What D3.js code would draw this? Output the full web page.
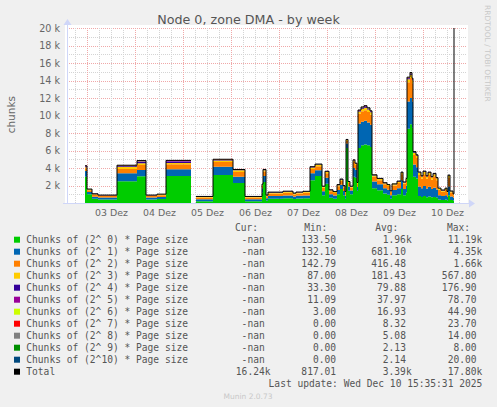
<!DOCTYPE html>
<html>
<head>
<meta charset="utf-8">
<script src="https://cdn.jsdelivr.net/npm/d3@7"></script>
<style>
body { margin: 0; background: #f0f0f0; }
svg { display: block; font-family: "DejaVu Sans", sans-serif; }
</style>
</head>
<body>
<div id="chart"></div>
<script>
// hours after 03 Dez 00:00; each value holds until the next entry (null = no data)
var hours = [-1,0,2.5,5.5,15, 25,29.5,35,39.5,52, 54.5,63,73,79,87.5, 88,89.5,90.5,98,103,
  104.5,108,111.5,114,117.5, 119,121,123,125,126.5, 128,129,129.5,130.5,131.5, 133,134,135,135.5,137,
  138.5,140,141.5,142.5,145, 148,150,151.5,152.5,155, 157,158,159.5,160,161.5, 162.5,163,164.5,165.5,167,
  168,169.5,170.5,172,173, 174.5,175.5,177,179,180, 180.5,181.5,183,183.5];

var s0 = [3000,1000,480,400,2500, 3050,400,450,3100,null, 200,3200,2300,200,1200, 2400,300,500,550,450,
  520,540,2600,3100,900, 2200,600,500,1000,1600, 900,500,6300,1400,1000, 3000,2900,1400,6300,6600,
  6700,6600,6400,1700,1450, 1100,950,500,900,1000, 1600,900,1200,8500,9000, 8600,3000,2800,800,700,
  800,650,750,650,700, 600,400,350,400,300, 900,350,300,null];
var s1 = [650,260,240,220,900, 730,220,250,760,null, 220,950,700,220,500, 700,250,300,320,280,
  300,320,800,650,450, 700,400,350,500,500, 480,350,500,500,420, 1000,900,450,2800,2700,
  2700,2600,2550,750,680, 600,560,400,600,700, 1000,700,800,3100,3000, 3000,1400,1300,1100,1000,
  1150,1000,1100,950,1050, 950,500,450,500,400, 1000,400,300,null];
var s2 = [330,190,200,170,480, 550,170,190,570,null, 200,550,550,200,300, 500,220,280,300,250,
  270,300,500,450,400, 500,350,300,420,450, 420,300,300,380,350, 700,550,330,1100,1200,
  1200,1200,1150,550,480, 430,420,350,500,600, 700,600,600,2200,2300, 2100,1100,1050,1300,1100,
  1350,1150,1350,1100,1300, 1050,600,500,600,450, 1000,450,300,null];
var s3 = [120,80,80,70,270, 200,70,75,150,null, 80,150,200,80,100, 150,90,100,110,95,
  100,110,150,150,110, 150,100,100,120,120, 120,100,100,110,100, 150,130,100,250,280,
  300,280,260,150,140, 130,120,100,130,140, 160,140,150,350,350, 330,250,240,250,230,
  250,230,240,230,240, 220,150,140,150,120, 220,130,100,null];
var s4 = [80,40,35,33,70, 177,33,35,170,null, 34,60,45,34,40, 50,35,40,45,38,
  40,42,60,60,40, 50,38,35,40,45, 40,35,40,40,38, 50,45,40,100,110,
  120,110,100,45,40, 38,35,30,38,40, 45,40,40,120,130, 120,70,65,55,50,
  55,50,55,50,55, 50,35,33,35,30, 45,30,30,null];
var s5 = [35,15,12,11,30, 78,11,12,75,null, 12,25,20,12,15, 20,12,15,16,14,
  15,16,25,25,15, 20,14,12,15,16, 15,12,15,15,14, 20,18,15,45,50,
  55,50,45,18,15, 14,12,10,14,15, 18,15,15,55,60, 55,30,28,22,20,
  22,20,22,20,22, 20,12,11,12,10, 18,10,10,null];
var s6 = [20,5,4,3,45, 20,3,3,15,null, 3,44,10,3,5, 8,3,5,5,4,
  5,5,8,8,5, 6,4,4,5,5, 5,4,5,5,4, 6,6,5,15,18,
  20,18,15,6,5, 4,4,3,4,5, 6,5,5,25,30, 25,12,10,8,7,
  8,7,8,7,8, 7,4,3,4,3, 6,3,3,null];
var s7 = [10,3,2,0,12, 20,0,0,14,null, 0,10,5,0,2, 4,0,2,2,1,
  2,2,5,5,2, 3,1,1,2,2, 2,1,2,2,1, 3,3,2,8,10,
  12,10,8,3,2, 1,1,0,1,2, 3,2,2,15,18, 15,6,5,4,3,
  4,3,4,3,4, 3,1,0,1,0, 3,0,0,null];
var s8 = [6,1,1,0,6, 10,0,0,8,null, 0,6,2,0,1, 2,0,1,1,0,
  1,1,2,2,1, 1,0,0,1,1, 1,0,1,1,0, 1,1,1,4,5,
  6,5,4,1,1, 0,0,0,0,1, 1,1,1,8,10, 8,3,2,2,1,
  2,1,2,1,2, 1,0,0,0,0, 1,0,0,null];
var s9 = [2,0,0,0,2, 4,0,0,2,null, 0,2,0,0,0, 0,0,0,0,0,
  0,0,0,0,0, 0,0,0,0,0, 0,0,0,0,0, 0,0,0,2,2,
  3,2,2,0,0, 0,0,0,0,0, 0,0,0,4,5, 4,1,1,1,0,
  1,0,1,0,1, 0,0,0,0,0, 0,0,0,null];
var s10 = [2,0,0,0,2, 6,0,0,4,null, 0,2,0,0,0, 0,0,0,0,0,
  0,0,0,0,0, 0,0,0,0,0, 0,0,0,0,0, 0,0,0,2,2,
  3,2,2,0,0, 0,0,0,0,0, 0,0,0,4,5, 4,1,1,1,0,
  1,0,1,0,1, 0,0,0,0,0, 0,0,0,null];
// last total sample shoots past the top of the graph
var endTotal = 20500;

var names = ["Chunks of (2^ 0) * Page size", "Chunks of (2^ 1) * Page size", "Chunks of (2^ 2) * Page size",
  "Chunks of (2^ 3) * Page size", "Chunks of (2^ 4) * Page size", "Chunks of (2^ 5) * Page size",
  "Chunks of (2^ 6) * Page size", "Chunks of (2^ 7) * Page size", "Chunks of (2^ 8) * Page size",
  "Chunks of (2^ 9) * Page size", "Chunks of (2^10) * Page size", "Total"];
var colors = ["#00CC00","#0066B3","#FF8000","#FFCC00","#330099","#990099","#CCFF00","#FF0000","#808080","#008F00","#00487D","#000000"];
var curVals = ["-nan","-nan","-nan","-nan","-nan","-nan","-nan","-nan","-nan","-nan","-nan","16.24k"];
var minVals = ["133.50","132.10","142.79","87.00","33.30","11.09","3.00","0.00","0.00","0.00","0.00","817.01"];
var avgVals = ["1.96k","681.10","416.48","181.43","79.88","37.97","16.93","8.32","5.08","2.13","2.14","3.39k"];
var maxVals = ["11.19k","4.35k","1.66k","567.80","176.90","78.70","44.90","23.70","14.00","8.00","20.00","17.80k"];
var yTicks = d3.range(2000, 20001, 2000);

var W = 497, H = 407;
var svg = d3.select("#chart").append("svg").attr("width", W).attr("height", H);
svg.append("rect").attr("width", W).attr("height", H).attr("fill", "#f0f0f0");

var de = d3.timeFormatLocale({
  dateTime: "%A, %e. %B %Y, %X", date: "%d.%m.%Y", time: "%H:%M:%S", periods: ["AM", "PM"],
  days: ["Sonntag","Montag","Dienstag","Mittwoch","Donnerstag","Freitag","Samstag"],
  shortDays: ["So","Mo","Di","Mi","Do","Fr","Sa"],
  months: ["Januar","Februar","März","April","Mai","Juni","Juli","August","September","Oktober","November","Dezember"],
  shortMonths: ["Jan","Feb","Mär","Apr","Mai","Jun","Jul","Aug","Sep","Okt","Nov","Dez"]
});

var day0 = new Date(2025, 11, 3);
function at(h) { return new Date(day0.getTime() + h * 3600e3); }

var x = d3.scaleTime().domain([at(-10), at(190)]).range([67, 467]);
var y = d3.scaleLinear().domain([0, 20000]).range([203, 28]);

// canvas
svg.append("rect").attr("x", 65).attr("y", 25).attr("width", 403).attr("height", 179).attr("fill", "#fff");

// grid
var grid = svg.append("g").attr("stroke-dasharray", "1,1").attr("shape-rendering", "crispEdges");
d3.range(1000, 20001, 1000).forEach(function(v) {
  grid.append("line").attr("x1", 67).attr("x2", 467).attr("y1", Math.round(y(v)) + 0.5).attr("y2", Math.round(y(v)) + 0.5)
    .attr("stroke", v % 2000 ? "#d4d4d4" : "#f0a8a8");
});
d3.range(-6, 190, 6).forEach(function(h) {
  var px = Math.round(x(at(h))) + 0.5;
  grid.append("line").attr("x1", px).attr("x2", px).attr("y1", 28).attr("y2", 203)
    .attr("stroke", h % 24 ? "#d4d4d4" : "#f0a8a8");
});

// step rows for stacking
var keys = ["s0","s1","s2","s3","s4","s5","s6","s7","s8","s9","s10"];
var series = [s0, s1, s2, s3, s4, s5, s6, s7, s8, s9, s10];
var steps = [];
hours.forEach(function(h, i) {
  if (i == hours.length - 1) return;
  var row = { ok: s0[i] != null };
  series.forEach(function(s, k) { row[keys[k]] = s[i] || 0; });
  row.total = row.ok ? d3.sum(series, function(s) { return s[i]; }) : null;
  steps.push(Object.assign({ t: at(h) }, row));
  if (row.ok) steps.push(Object.assign({}, row, { t: at(hours[i + 1]) }));
});
steps.push({ t: at(hours[hours.length - 1]), ok: false, total: endTotal });
keys.forEach(function(k) { steps[steps.length - 1][k] = 0; });

var stacked = d3.stack().keys(keys)(steps);

svg.append("clipPath").attr("id", "plot").append("rect").attr("x", 67).attr("y", 28).attr("width", 400).attr("height", 175);

var area = d3.area()
  .defined(function(d) { return d.data.ok; })
  .x(function(d) { return x(d.data.t); })
  .y0(function(d) { return y(d[0]); })
  .y1(function(d) { return y(d[1]); });

var plot = svg.append("g").attr("clip-path", "url(#plot)");
plot.selectAll("path.layer").data(stacked).enter().append("path")
  .attr("class", "layer")
  .attr("d", area)
  .attr("fill", function(d, i) { return colors[i]; });

var line = d3.line()
  .defined(function(d) { return d.total != null; })
  .x(function(d) { return x(d.t); })
  .y(function(d) { return y(d.total); });
plot.append("path").datum(steps).attr("d", line).attr("fill", "none").attr("stroke", "#000").attr("stroke-width", 1);

// axes lines and arrows
var axc = "#CFD6F8";
svg.append("line").attr("x1", 67.5).attr("x2", 67.5).attr("y1", 204).attr("y2", 24).attr("stroke", axc);
svg.append("path").attr("d", "M63.5,25L71.5,25L67.5,19Z").attr("fill", axc);
svg.append("line").attr("x1", 63).attr("x2", 470).attr("y1", 203.5).attr("y2", 203.5).attr("stroke", axc);
svg.append("path").attr("d", "M469,199.5L469,207.5L475,203.5Z").attr("fill", axc);

// tick labels
var yAxis = svg.append("g").attr("transform", "translate(67,0)")
  .call(d3.axisLeft(y).tickValues(yTicks).tickSize(0).tickPadding(7).tickFormat(function(d) { return d / 1000 + " k"; }));
yAxis.select(".domain").remove();
yAxis.attr("font-family", "DejaVu Sans").attr("font-size", 9.6).attr("color", "#666");

var noons = d3.range(0, 8).map(function(d) { return at(12 + 24 * d); });
var xAxis = svg.append("g").attr("transform", "translate(0,203)")
  .call(d3.axisBottom(x).tickValues(noons).tickSize(0).tickPadding(6).tickFormat(de.format("%d %b")));
xAxis.select(".domain").remove();
xAxis.attr("font-family", "DejaVu Sans").attr("font-size", 9.4).attr("color", "#666");

// titles
svg.append("text").attr("x", 248.5).attr("y", 24).attr("text-anchor", "middle")
  .attr("font-size", 12.7).attr("fill", "#555").text("Node 0, zone DMA - by week");
svg.append("text").attr("transform", "translate(14.5,114.7) rotate(-90)").attr("text-anchor", "middle")
  .attr("font-size", 10.5).attr("fill", "#666").text("chunks");
svg.append("text").attr("transform", "translate(484.5,5) rotate(90)")
  .attr("font-size", 7.5).attr("fill", "#c8c8c8").text("RRDTOOL / TOBI OETIKER");
svg.append("text").attr("x", 248).attr("y", 399).attr("text-anchor", "middle")
  .attr("font-size", 7.5).attr("fill", "#c8c8c8").text("Munin 2.0.73");

// legend
var cw = 5.77;
var colEnd = [270.5, 341.8, 411.7, 482.3];
var headEnd = [258, 327.3, 398.3, 470];
var legend = svg.append("g").attr("font-family", "DejaVu Sans Mono").attr("font-size", 9.6).attr("fill", "#555");
["Cur:", "Min:", "Avg:", "Max:"].forEach(function(h, c) {
  legend.append("text").attr("x", headEnd[c]).attr("y", 231.2).attr("text-anchor", "end").text(h);
});
names.forEach(function(n, i) {
  var cy = 239.7 + 12 * i;
  legend.append("rect").attr("x", 14).attr("y", cy - 3).attr("width", 6).attr("height", 6).attr("fill", colors[i]);
  legend.append("text").attr("x", 26.3).attr("y", cy + 3.5).text(n);
  [curVals, minVals, avgVals, maxVals].forEach(function(arr, c) {
    var v = arr[i];
    var xe = /k$/.test(v) ? colEnd[c] : colEnd[c] - cw;
    legend.append("text").attr("x", xe).attr("y", cy + 3.5).attr("text-anchor", "end").text(v);
  });
});
legend.append("text").attr("x", 482.3).attr("y", 386.8).attr("text-anchor", "end")
  .text("Last update: Wed Dec 10 15:35:31 2025");
</script>
</body>
</html>
